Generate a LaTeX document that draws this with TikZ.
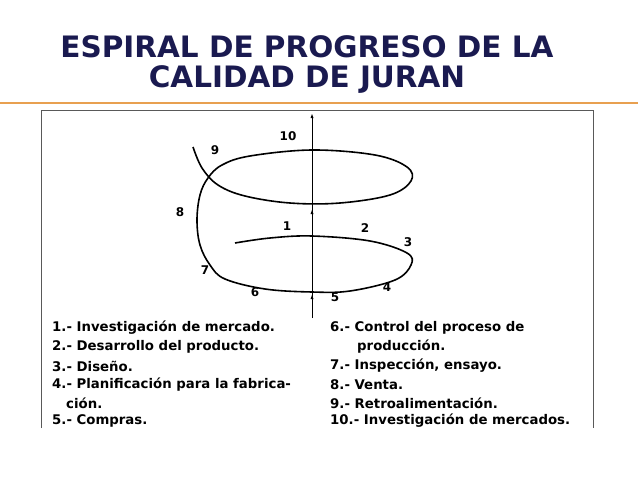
\documentclass[tikz,border=0pt]{standalone}
\usepackage{fontspec}
\setmainfont{DejaVu Sans}
\begin{document}
\begin{tikzpicture}[x=1pt,y=-1pt,
  ttl/.style={font=\fontsize{29.5}{32}\selectfont\bfseries, text=titlecol},
  num/.style={font=\fontsize{12}{13}\selectfont\bfseries},
  item/.style={font=\fontsize{13.3}{15}\selectfont\bfseries, anchor=west, inner sep=0pt}]
\definecolor{titlecol}{HTML}{1A1A50}
\definecolor{rule}{HTML}{E8A050}
\useasboundingbox (0,0) rectangle (638,479);
\node[ttl] (t1) at (307,47) {ESPIRAL DE PROGRESO DE LA};
\node[ttl] (t2) at (307,80) {CALIDAD DE JURAN};
\draw[rule, line width=2pt] (0,103) -- (638,103);
\draw[gray!70!black, line width=1pt] (41,428) -- (41,110) -- (593,110) -- (593,428);
% axis
\draw[line width=0.7pt] (312,318) -- (312,117);
\foreach \yy in {117,213,298} \fill (312,\yy-3) -- (310.5,\yy+1) -- (313.5,\yy+1) -- cycle;
% spiral
\draw[line width=1.6pt] plot[smooth, tension=0.6] coordinates {
 (235,243) (270,238) (312,236) (370,241) (407,253) (411,265) (395,280) (350,291) (312,292) (265,289) (225,279) (210,265) (200,245) (197,220) (200,195) (208,178) (222,165) (250,156) (312,150) (375,155) (407,167) (411,181) (390,195) (340,203) (290,203) (245,196) (218,185) (202,168) (193,147)};
% labels
\node[num] (n10) at (288,136) {10};
\node[num] (n9) at (215,150) {9};
\node[num] (n8) at (180,212) {8};
\node[num] (n1) at (287,226) {1};
\node[num] (n2) at (365,228) {2};
\node[num] (n3) at (408,242) {3};
\node[num] (n7) at (205,270) {7};
\node[num] (n6) at (255,292) {6};
\node[num] (n5) at (335,297) {5};
\node[num] (n4) at (387,287) {4};
% list
\node[item] (l1) at (52,328) {1.- Investigación de mercado.};
\node[item] (l2) at (52,347) {2.- Desarrollo del producto.};
\node[item] (l3) at (52,366) {3.- Diseño.};
\node[item] (l4) at (52,385) {4.- Planificación para la fabrica-};
\node[item] (l4b) at (66,403) {ción.};
\node[item] (l5) at (52,421) {5.- Compras.};
\node[item] (r6) at (330,328) {6.- Control del proceso de};
\node[item] (r6b) at (357,347) {producción.};
\node[item] (r7) at (330,366) {7.- Inspección, ensayo.};
\node[item] (r8) at (330,385) {8.- Venta.};
\node[item] (r9) at (330,403) {9.- Retroalimentación.};
\node[item] (r10) at (330,421) {10.- Investigación de mercados.};
\end{tikzpicture}
\end{document}
